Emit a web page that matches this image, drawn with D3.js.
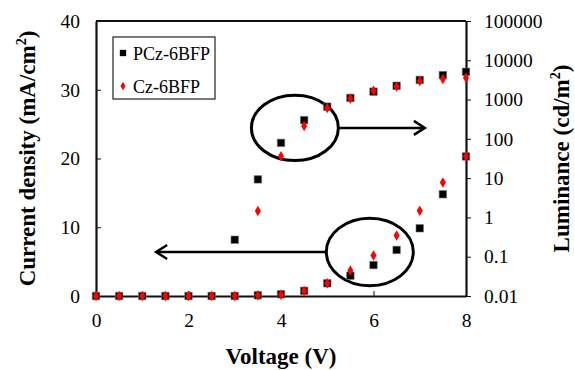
<!DOCTYPE html>
<html>
<head>
<meta charset="utf-8">
<script src="https://cdn.jsdelivr.net/npm/d3@7"></script>
<style>
  body { margin: 0; background: #fff; }
  text { font-family: "Liberation Serif", "Times New Roman", serif; }
</style>
</head>
<body>
<div id="chart"></div>
<script>
// data
var voltage = [0, 0.5, 1, 1.5, 2, 2.5, 3, 3.5, 4, 4.5, 5, 5.5, 6, 6.5, 7, 7.5, 8];
var pczCurrent = [0, 0, 0, 0, 0, 0, 0, 0.1, 0.25, 0.75, 1.85, 2.95, 4.5, 6.7, 9.85, 14.8, 20.3];
var czCurrent = [0, 0, 0, 0, 0, 0, 0, 0.1, 0.2, 0.73, 1.85, 3.7, 5.9, 8.8, 12.4, 16.5, 20.3];
// luminance below 0.01 cd/m2 is off the chart (null)
var pczLum = [null, null, null, null, null, null, 0.27, 9.3, 79, 300, 660, 1100, 1590, 2240, 3160, 4200, 5100];
var czLum = [null, null, null, null, null, null, null, 1.45, 36, 212, 610, 1070, 1680, 2140, 2960, 3330, 3600];

var xTicks = [0, 2, 4, 6, 8];
var yTicks = [0, 10, 20, 30, 40];
var lumTicks = [0.01, 0.1, 1, 10, 100, 1000, 10000, 100000];
var seriesNames = ["PCz-6BFP", "Cz-6BFP"];

var width = 575, height = 370;
var margin = {top: 21, right: 109, bottom: 74, left: 96};

var svg = d3.select("#chart")
    .append("svg")
    .attr("width", width)
    .attr("height", height);

var x = d3.scaleLinear().domain([0, 8]).range([margin.left, width - margin.right]);
var y = d3.scaleLinear().domain([0, 40]).range([height - margin.bottom, margin.top]);
var yLum = d3.scaleLog().domain([0.01, 100000]).range([height - margin.bottom, margin.top]);

var axisColor = "#111";

// axes
var xAxis = svg.append("g")
    .attr("transform", "translate(0," + (height - margin.bottom) + ")")
    .call(d3.axisBottom(x).tickValues(xTicks).tickSizeInner(-5).tickSizeOuter(0).tickPadding(17));

var yAxis = svg.append("g")
    .attr("transform", "translate(" + margin.left + ",0)")
    .call(d3.axisLeft(y).tickValues(yTicks).tickSizeInner(-5).tickSizeOuter(0).tickPadding(16));

var yAxisR = svg.append("g")
    .attr("transform", "translate(" + (width - margin.right) + ",0)")
    .call(d3.axisRight(yLum).tickValues(lumTicks).tickFormat(d3.format("~f")).tickSizeInner(5).tickSizeOuter(0).tickPadding(13));

[xAxis, yAxis, yAxisR].forEach(function (g) {
    g.select(".domain").attr("stroke", axisColor).attr("stroke-width", 2.2);
    g.selectAll(".tick line").attr("stroke", axisColor).attr("stroke-width", 1);
    g.selectAll(".tick text")
        .attr("fill", "#000")
        .style("font-size", "19.5px")
        .style("font-family", "'Liberation Serif', serif");
});

// top border
svg.append("line")
    .attr("x1", x(0)).attr("x2", x(8))
    .attr("y1", y(40)).attr("y2", y(40))
    .attr("stroke", axisColor)
    .attr("stroke-width", 2.2);

// axis titles
svg.append("text")
    .attr("x", (x(0) + x(8)) / 2)
    .attr("y", 364)
    .attr("text-anchor", "middle")
    .style("font-size", "23px")
    .style("font-weight", "bold")
    .text("Voltage (V)");

var leftTitle = svg.append("text")
    .attr("transform", "translate(35," + ((y(0) + y(40)) / 2) + ") rotate(-90)")
    .attr("text-anchor", "middle")
    .style("font-size", "23px")
    .style("font-weight", "bold");
leftTitle.append("tspan").text("Current density (mA/cm");
leftTitle.append("tspan").attr("dy", -9).style("font-size", "14px").text("2");
leftTitle.append("tspan").attr("dy", 9).text(")");

var rightTitle = svg.append("text")
    .attr("transform", "translate(569," + ((y(0) + y(40)) / 2) + ") rotate(-90)")
    .attr("text-anchor", "middle")
    .style("font-size", "23px")
    .style("font-weight", "bold");
rightTitle.append("tspan").text("Luminance (cd/m");
rightTitle.append("tspan").attr("dy", -9).style("font-size", "14px").text("2");
rightTitle.append("tspan").attr("dy", 9).text(")");

// annotations: ellipses and arrows
var ann = svg.append("g").attr("fill", "none").attr("stroke", "#000").attr("stroke-width", 3);

function circleArrow(cx, cy, rxV, ryV, toX) {
    var px = x(cx), py = y(cy);
    var rx = x(rxV) - x(0), ry = y(0) - y(ryV);
    ann.append("ellipse").attr("cx", px).attr("cy", py).attr("rx", rx).attr("ry", ry);
    var dir = toX > cx ? 1 : -1;
    var x0 = px + dir * rx, x1 = x(toX);
    ann.append("line").attr("x1", x0).attr("y1", py).attr("x2", x1).attr("y2", py).attr("stroke-width", 2.5);
    ann.append("path")
        .attr("d", "M" + (x1 - dir * 11) + "," + (py - 7) + "L" + x1 + "," + py + "L" + (x1 - dir * 11) + "," + (py + 7))
        .attr("stroke-width", 2.5);
}
circleArrow(4.3, 24.45, 0.94, 4.75, 7.11);
circleArrow(5.92, 6.4, 0.94, 4.9, 1.3);

// markers
var square = d3.symbol().type(d3.symbolSquare).size(56);
var diamond = d3.symbol().type(d3.symbolDiamond).size(32);

function toPoints(vals, scale) {
    return voltage.map(function (v, i) { return {v: v, val: vals[i]}; })
        .filter(function (d) { return d.val != null; })
        .map(function (d) { return [x(d.v), scale(d.val)]; });
}

function drawSeries(pts, sym, color) {
    svg.append("g").selectAll("path")
        .data(pts)
        .enter()
        .append("path")
        .attr("d", sym)
        .attr("transform", function (d) { return "translate(" + d[0] + "," + d[1] + ")"; })
        .attr("fill", color)
        .attr("stroke", color === "#000" ? "#777" : "none")
        .attr("stroke-width", 0.6);
}

drawSeries(toPoints(pczCurrent, y), square, "#000");
drawSeries(toPoints(pczLum, yLum), square, "#000");
drawSeries(toPoints(czCurrent, y), diamond, "#ff0000");
drawSeries(toPoints(czLum, yLum), diamond, "#ff0000");

// legend
var legend = svg.append("g").attr("transform", "translate(113,37)");
legend.append("rect")
    .attr("width", 102).attr("height", 62)
    .attr("fill", "#fff")
    .attr("stroke", "#222")
    .attr("stroke-width", 1.2);
var legendSyms = [d3.symbol().type(d3.symbolSquare).size(40), d3.symbol().type(d3.symbolDiamond).size(22)];
var legendColors = ["#000", "#ff0000"];
seriesNames.forEach(function (name, i) {
    legend.append("path")
        .attr("d", legendSyms[i])
        .attr("transform", "translate(10," + (16 + i * 33) + ")")
        .attr("fill", legendColors[i]);
    legend.append("text")
        .attr("x", 20)
        .attr("y", 23 + i * 33)
        .style("font-size", "18px")
        .text(name);
});
</script>
</body>
</html>
